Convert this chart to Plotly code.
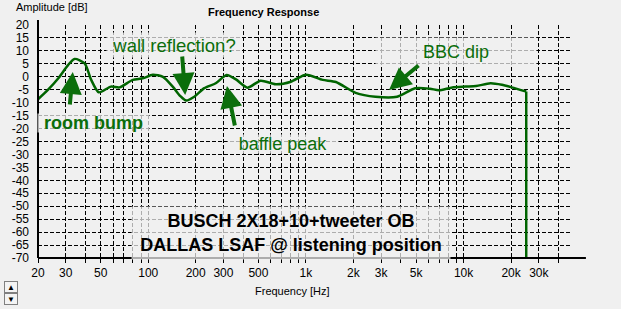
import plotly.graph_objects as go

# ---- data ----
freq_hz = [20, 23.1, 27, 31, 34.1, 39.5, 43.5, 48.6, 58, 65.8, 79.8, 92.4, 106.8, 124, 143,
           160, 174, 196, 227, 268, 314, 360, 426, 516, 644, 804, 1000, 1276, 1550, 2068,
           2760, 3785, 4930, 6120, 6970, 8480, 10300, 12000, 14800, 17500, 20200, 24960, 24960]
amp_db = [-8.7, -5.1, -0.5, 4.5, 6.9, 5.2, -1.2, -6.0, -3.8, -4.1, -1.2, -0.6, 0.8, 0.0, -3.8,
          -7.5, -9.2, -7.7, -4.4, -2.5, 0.7, -1.0, -4.2, -1.5, -2.9, -1.9, 0.8, -1.2, -2.0, -6.2,
          -7.7, -7.7, -4.4, -4.6, -5.2, -4.1, -3.8, -3.6, -2.5, -3.1, -4.1, -5.7, -75]

x_tick_vals = ([20, 30, 40, 50, 60, 70, 80, 90] +
               [100 * k for k in range(1, 10)] +
               [1000 * k for k in range(1, 10)] +
               [10000, 20000, 30000, 40000])
x_labelled = {20: "20", 30: "30", 50: "50", 100: "100", 200: "200", 300: "300", 500: "500",
              1000: "1k", 2000: "2k", 3000: "3k", 5000: "5k", 10000: "10k", 20000: "20k",
              30000: "30k"}
x_tick_text = [x_labelled.get(v, "") for v in x_tick_vals]
y_tick_vals = list(range(-70, 25, 5))
y_tick_text = [str(v) for v in y_tick_vals]

GREEN_LINE = "#006400"
GREEN_TXT = "#0b6e0b"
BG = "#f0f0f0"
FONT = "Liberation Sans, Arial, sans-serif"

fig = go.Figure()
# smooth response curve
fig.add_trace(go.Scatter(x=freq_hz[:-1], y=amp_db[:-1], mode="lines",
                         line=dict(color=GREEN_LINE, width=2.5, shape="spline", smoothing=0.7),
                         hoverinfo="skip"))
# cut-off edge (vertical drop)
fig.add_trace(go.Scatter(x=freq_hz[-2:], y=amp_db[-2:], mode="lines",
                         line=dict(color=GREEN_LINE, width=2.5), hoverinfo="skip"))

L, R, T, B = 35, 50, 25, 51
W, H = 621, 309
PW, PH = W - L - R, H - T - B


def px(xp):
    return (xp - L) / PW


def py(yp):
    return (H - B - yp) / PH


fig.update_layout(
    width=W, height=H, margin=dict(l=L, r=R, t=T, b=B, pad=0),
    paper_bgcolor=BG, plot_bgcolor=BG, showlegend=False,
    font=dict(family=FONT, color="black", size=12),
)
fig.update_xaxes(type="log", range=[1.30103, 4.68124], tickvals=x_tick_vals, ticktext=x_tick_text,
                 showgrid=True, gridcolor="black", griddash="4px,2px", gridwidth=1,
                 ticks="outside", ticklen=4, tickcolor="black", tickfont=dict(size=12),
                 showline=False, zeroline=False, fixedrange=True)
fig.update_yaxes(range=[-70, 20], tickvals=y_tick_vals, ticktext=y_tick_text,
                 showgrid=True, gridcolor="black", griddash="4px,2px", gridwidth=1,
                 ticks="", ticklabelstandoff=8, tickfont=dict(size=12),
                 showline=False, zeroline=False, fixedrange=True)

# axis lines (extend slightly past the grid like the reference)
fig.add_shape(type="line", xref="paper", yref="paper", x0=0, x1=0, y0=0, y1=py(20),
              line=dict(color="black", width=2))
fig.add_shape(type="line", xref="paper", yref="paper", x0=0, x1=px(586), y0=0, y1=0,
              line=dict(color="black", width=2))

anns = []
# titles
anns.append(dict(text="<b>Frequency Response</b>", x=px(261.5), y=py(12.5), xanchor="center",
                 yanchor="middle", font=dict(size=11)))
anns.append(dict(text="Amplitude [dB]", x=px(12), y=py(7), xanchor="left", yanchor="middle",
                 font=dict(size=11)))
anns.append(dict(text="Frequency [Hz]", x=px(291), y=py(291), xanchor="center", yanchor="middle",
                 font=dict(size=11)))

BOX = "rgba(240,240,240,0.72)"
# labelled boxes
anns.append(dict(text="wall reflection?", x=px(172), y=py(45), width=134, height=24,
                 font=dict(size=18.5, color=GREEN_TXT), bgcolor=BOX))
anns.append(dict(text="<b>room bump</b>", x=px(91), y=py(123), width=111, height=18,
                 font=dict(size=18, color=GREEN_TXT), bgcolor=BOX))
anns.append(dict(text="baffle peak", x=px(281), y=py(144), width=110, height=18,
                 font=dict(size=18, color=GREEN_TXT), bgcolor=BOX))
anns.append(dict(text="BBC dip", x=px(455), y=py(51), width=160, height=27,
                 font=dict(size=18, color=GREEN_TXT), bgcolor=BOX))
anns.append(dict(text="<b>BUSCH 2X18+10+tweeter OB<br>DALLAS LSAF @ listening position</b>",
                 x=px(289.5), y=py(233), width=318, height=52,
                 font=dict(size=18, color="black"), bgcolor=BOX))

# arrows (head position, tail offset in pixels)
arrows = [((70, 72), (-3, 33)), ((183, 95), (-3, -39)), ((225, 86), (8, 40)), ((388, 90), (30, -25))]
for (hx, hy), (ax, ay) in arrows:
    anns.append(dict(text="", x=px(hx), y=py(hy), ax=ax, ay=ay, showarrow=True, arrowhead=2,
                     arrowsize=1.1, arrowwidth=4, arrowcolor=GREEN_TXT, standoff=0))

# scroll buttons
for yy, sym in [(287, "▲"), (299, "▼")]:
    anns.append(dict(text=sym, x=px(7.5), y=py(yy), width=12, height=10, font=dict(size=8),
                     bgcolor="#f4f4f4", bordercolor="#808080", borderwidth=1, borderpad=0))

for a in anns:
    a.setdefault("xref", "paper")
    a.setdefault("yref", "paper")
    a.setdefault("showarrow", False)
    a.setdefault("xanchor", "center")
    a.setdefault("yanchor", "middle")
    a.setdefault("borderpad", 0)
fig.update_layout(annotations=anns)

fig.write_html("out.html", config={"displayModeBar": False})
